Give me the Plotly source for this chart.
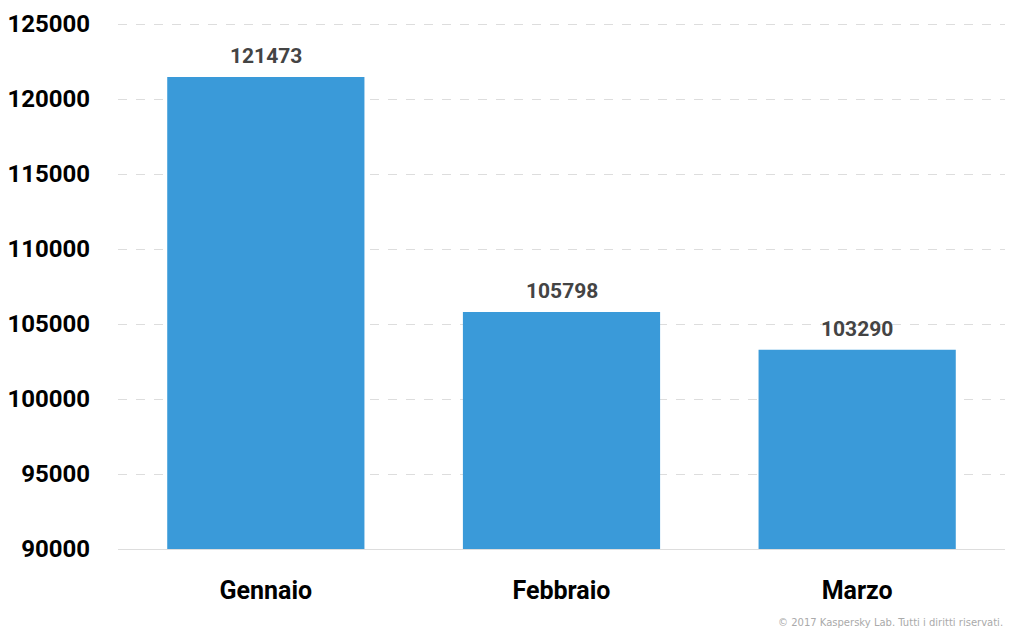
import plotly.graph_objects as go

mesi = ["Gennaio", "Febbraio", "Marzo"]
valori = [121473, 105798, 103290]
tick_vals = [90000, 95000, 100000, 105000, 110000, 115000, 120000, 125000]

font_b = "Roboto, DejaVu Sans Condensed, sans-serif"

fig = go.Figure()
fig.add_bar(
    x=mesi,
    y=valori,
    marker=dict(color="#3a9ad9", line=dict(width=0)),
    hoverinfo="x+y",
)

# etichette dei valori sopra le barre
for m, v in zip(mesi, valori):
    fig.add_annotation(
        x=m, y=v, text=str(v),
        showarrow=False, yanchor="bottom", yshift=7,
        font=dict(family=font_b, size=21, color="#444444", weight="bold"),
    )

# la pagina html ha un margine di 8px: la figura parte da (8, 8)
fig.update_layout(
    width=1007,
    height=629,
    margin=dict(l=110, r=10, t=13, b=88, autoexpand=False),
    paper_bgcolor="white",
    plot_bgcolor="white",
    bargap=0.333,
    showlegend=False,
    font=dict(family=font_b),
)

fig.update_yaxes(
    range=[90000, 125200],
    tickvals=tick_vals,
    ticktext=[str(v) for v in tick_vals],
    tickfont=dict(family=font_b, size=24, color="#000000", weight="bold"),
    showgrid=True,
    gridcolor="#dddddd",
    griddash="dash",
    gridwidth=1,
    zeroline=False,
    showline=False,
    ticks="",
    ticklabelstandoff=27,
    automargin=False,
)

fig.update_xaxes(
    tickfont=dict(family=font_b, size=25, color="#000000", weight="bold"),
    showline=True,
    linecolor="#dddddd",
    linewidth=1,
    ticks="",
    ticklabelstandoff=19,
    automargin=False,
)

fig.add_annotation(
    text="© 2017 Kaspersky Lab. Tutti i diritti riservati.",
    xref="paper", yref="paper",
    x=1.0, y=-0.139,
    xanchor="right", yanchor="middle",
    showarrow=False,
    font=dict(family="DejaVu Sans, sans-serif", size=10, color="#aaaaaa"),
)

fig.write_html("out.html")
